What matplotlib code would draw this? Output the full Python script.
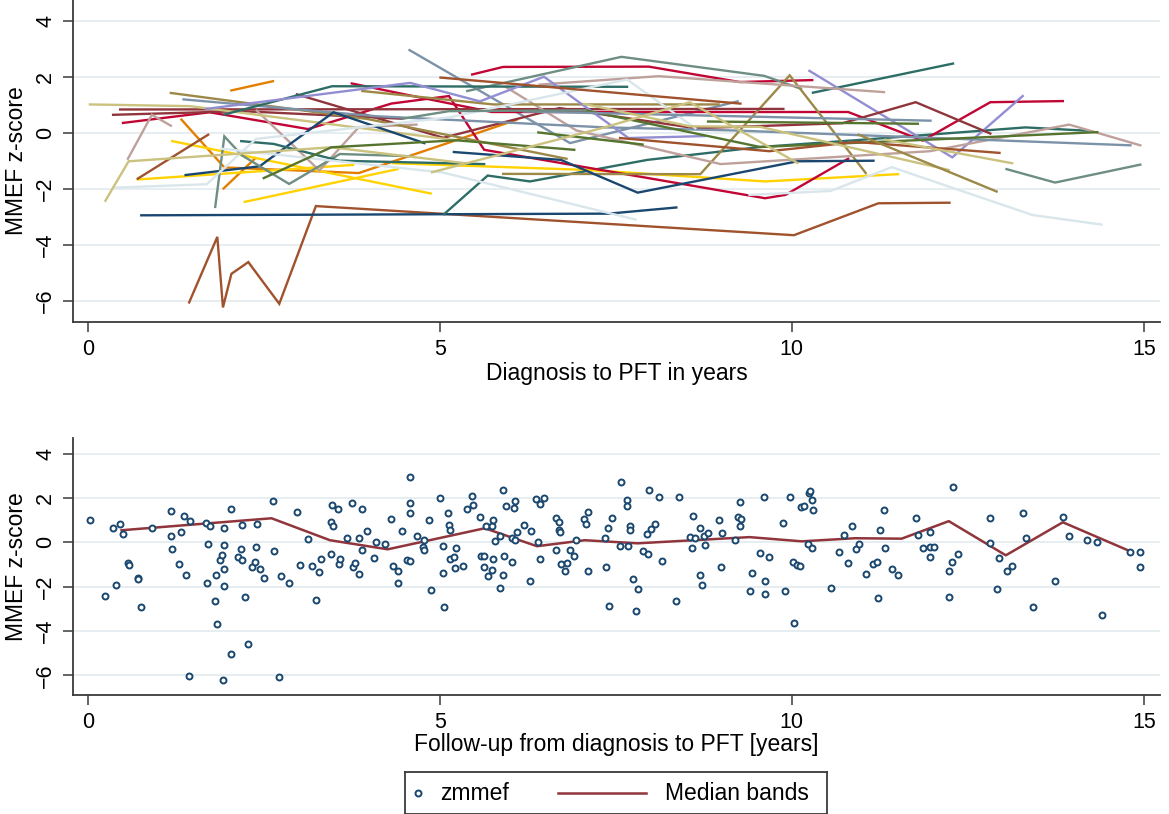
import matplotlib
matplotlib.use('Agg')
import matplotlib.pyplot as plt

plt.rcParams['font.family'] = ['Liberation Sans', 'DejaVu Sans']

# ---------------- data ----------------
# Stata s2color palette
palette = {
    'navy': '#1a476f', 'maroon': '#90353b', 'forest': '#55752f', 'dkorange': '#e37e00',
    'teal': '#6e8e84', 'cranberry': '#c10534', 'lavender': '#938dd2', 'khaki': '#cac27e',
    'sienna': '#a0522d', 'emidblue': '#7b92a8', 'emerald': '#2d6d66', 'brown': '#9c8847',
    'erose': '#bfa19c', 'gold': '#ffd200', 'bluishgray': '#d9e6eb',
}

# per-subject trajectories (top panel)
subj_color = [
    'sienna', 'navy', 'emerald', 'emidblue', 'dkorange', 'dkorange', 'dkorange',
    'gold', 'gold', 'gold', 'gold', 'cranberry', 'cranberry', 'cranberry', 'teal',
    'emerald', 'lavender', 'brown', 'maroon', 'maroon', 'maroon', 'erose', 'erose',
    'erose', 'erose', 'khaki', 'brown', 'brown', 'emidblue', 'emerald', 'lavender',
    'navy', 'teal', 'emerald', 'bluishgray', 'bluishgray', 'bluishgray', 'sienna',
    'khaki', 'forest', 'forest', 'forest', 'forest', 'sienna', 'sienna', 'teal',
    'navy', 'emidblue', 'khaki', 'khaki', 'brown', 'khaki', 'teal',
]
subj_x = [
    [1.44, 1.84, 1.92, 2.04, 2.28, 2.72, 3.24, 10.03, 11.23, 12.24],
    [0.76, 7.40, 8.36],
    [5.06, 5.68, 6.28, 7.95, 9.55, 10.95, 13.32, 14.20],
    [4.57, 6.85, 9.23],
    [2.04, 2.63],
    [1.33, 1.94, 3.85, 6.09],
    [1.93, 2.38],
    [1.20, 4.87],
    [0.71, 3.77],
    [2.23, 4.40],
    [4.34, 7.10, 9.62, 11.51],
    [0.50, 1.73, 3.13, 4.31, 5.13, 5.63, 9.62, 9.91, 10.80],
    [5.46, 5.90, 7.97, 9.26, 10.29],
    [3.75, 4.58, 5.74, 10.80, 11.86, 12.82, 13.85],
    [5.39, 7.58, 9.61, 10.13],
    [10.30, 12.29],
    [10.25, 12.28, 13.28],
    [5.90, 8.70, 9.97, 11.05],
    [0.46, 9.88],
    [0.36, 2.19, 4.47],
    [2.97, 5.05, 6.70, 8.63, 10.72, 11.76, 12.82],
    [0.57, 0.91, 1.18],
    [2.40, 3.29, 3.85, 4.67],
    [5.94, 6.94, 8.99, 11.96, 13.94, 14.95],
    [6.42, 8.11, 11.31],
    [0.03, 1.45, 5.23],
    [1.18, 3.97, 6.80],
    [3.90, 5.76, 8.96],
    [1.36, 4.09, 7.35, 9.19, 14.81],
    [1.94, 3.47, 7.66],
    [1.68, 4.58, 5.57, 6.48, 7.68, 8.76],
    [1.39, 2.44, 3.49, 4.78],
    [1.81, 1.94, 2.19, 2.86, 3.58, 4.58],
    [2.18, 2.64, 3.57, 5.63],
    [0.40, 1.69, 2.39, 5.14, 7.66, 8.63],
    [1.90, 5.04, 7.78],
    [9.40, 10.55, 11.42, 13.42, 14.40],
    [0.71, 1.71],
    [0.25, 0.58, 3.46, 5.33],
    [6.40, 7.88],
    [8.81, 11.79],
    [7.07, 9.55, 12.02, 14.34],
    [2.50, 3.46, 5.23, 6.91],
    [5.01, 9.27],
    [7.56, 9.68, 10.91, 12.95],
    [13.05, 13.74, 14.95],
    [5.20, 6.72, 7.81, 10.08, 11.16],
    [6.19, 11.97],
    [7.05, 8.55, 9.55, 12.23],
    [11.33, 13.13],
    [10.95, 12.91],
    [4.89, 7.34, 8.55, 10.08],
    [4.47, 5.13, 7.07],
]
subj_y = [
    [-6.05, -3.71, -6.23, -5.03, -4.61, -6.10, -2.61, -3.65, -2.51, -2.49],
    [-2.94, -2.88, -2.66],
    [-2.90, -1.52, -1.73, -0.96, -0.50, -0.25, 0.20, 0.08],
    [2.96, -0.36, 1.13],
    [1.52, 1.85],
    [0.48, -1.23, -1.43, 0.47],
    [-1.98, -0.90],
    [-0.29, -2.16],
    [-1.66, -1.14],
    [-2.46, -1.29],
    [-1.08, -1.32, -1.73, -1.47],
    [0.36, 0.74, 0.14, 1.05, 1.32, -0.60, -2.33, -2.21, -0.92],
    [2.09, 2.36, 2.37, 1.82, 1.89],
    [1.77, 1.34, 0.75, 0.75, -0.27, 1.10, 1.14],
    [1.50, 2.72, 2.04, 1.58],
    [1.44, 2.48],
    [2.22, -0.87, 1.32],
    [-1.46, -1.47, 2.06, -1.43],
    [0.84, 0.86],
    [0.65, 0.78, 0.51],
    [1.38, -0.17, 0.89, 0.17, 0.35, 1.10, -0.02],
    [-0.92, 0.65, 0.26],
    [0.80, -1.34, 0.21, 0.30],
    [1.64, 0.09, -1.11, -0.65, 0.30, -0.44],
    [1.73, 2.03, 1.46],
    [1.02, 0.96, -0.26],
    [1.43, 0.50, -0.92],
    [1.50, 1.02, 1.02],
    [1.20, 0.60, 0.20, 0.09, -0.44],
    [0.66, 1.67, 1.65],
    [0.86, 1.79, 1.13, 2.01, -0.18, -0.11],
    [-1.50, -1.19, 0.74, -0.36],
    [-2.64, -0.12, -0.80, -1.82, -0.75, -0.83],
    [-0.29, -0.39, -0.99, -1.11],
    [-1.95, -1.83, -0.21, 0.56, 1.91, 0.17],
    [-0.56, -1.41, -3.09],
    [-2.21, -2.07, -1.22, -2.93, -3.27],
    [-1.63, -0.06],
    [-2.42, -1.01, -0.51, -1.07],
    [0.02, -0.41],
    [0.41, 0.33],
    [0.81, -0.50, -0.23, 0.03],
    [-1.61, -0.51, -0.26, -0.60],
    [1.98, 1.05],
    [-0.18, -0.65, -0.32, -0.71],
    [-1.29, -1.77, -1.13],
    [-0.68, -0.96, -2.13, -1.01, -0.99],
    [0.77, 0.44],
    [1.04, 0.24, 0.22, -1.32],
    [-0.24, -1.08],
    [-0.06, -2.09],
    [-1.40, 0.20, 1.10, -1.07],
    [0.51, 0.78, 0.81],
]

# pooled observations (bottom panel)
followup_years = [
    0.03, 0.25, 0.36, 0.40, 0.46, 0.50, 0.57, 0.58, 0.71, 0.71, 0.76, 0.91, 1.18, 1.18, 1.20, 1.29,
    1.33, 1.36, 1.39, 1.44, 1.45, 1.68, 1.69, 1.71, 1.73, 1.81, 1.82, 1.84, 1.88, 1.90, 1.93, 1.94,
    1.94, 1.94, 1.92, 2.04, 2.04, 2.13, 2.18, 2.19, 2.19, 2.23, 2.28, 2.33, 2.38, 2.39, 2.40, 2.44,
    2.50, 2.63, 2.64, 2.72, 2.75, 2.86, 2.97, 3.01, 3.13, 3.18, 3.24, 3.29, 3.31, 3.46, 3.46, 3.47,
    3.49, 3.56, 3.57, 3.58,
    3.68, 3.75, 3.77, 3.80, 3.85, 3.85, 3.89, 3.90, 3.97, 4.07, 4.09, 4.22, 4.31, 4.34, 4.40, 4.40,
    4.47, 4.53, 4.57, 4.58, 4.58, 4.58, 4.67, 4.76, 4.78, 4.78, 4.85, 4.87, 5.01, 5.04, 5.05, 5.06,
    5.12, 5.13, 5.14, 5.14, 5.20, 5.21, 5.23, 5.33, 5.39, 5.46, 5.47, 5.57, 5.59, 5.63, 5.63, 5.66,
    5.68, 5.74, 5.74, 5.76, 5.76, 5.79, 5.86, 5.86, 5.90, 5.90, 5.91, 5.94, 6.02, 6.02, 6.05, 6.07,
    6.07, 6.09, 6.19, 6.28, 6.30, 6.37, 6.40, 6.42, 6.42, 6.48, 6.65, 6.65, 6.69, 6.70, 6.71, 6.72,
    6.78, 6.80, 6.85, 6.91, 6.94, 7.05, 7.07, 7.10, 7.11, 7.35, 7.36, 7.39, 7.40, 7.44,
    7.56, 7.58, 7.66, 7.66, 7.68, 7.70, 7.70, 7.75, 7.78, 7.81, 7.88, 7.95, 7.96, 7.97, 8.00, 8.05,
    8.11, 8.16, 8.36, 8.40, 8.55, 8.58, 8.60, 8.63, 8.70, 8.70, 8.73, 8.75, 8.76, 8.81, 8.96, 8.99,
    9.01, 9.19, 9.23, 9.26, 9.27, 9.28, 9.40, 9.43, 9.55, 9.61, 9.62, 9.62, 9.68, 9.88, 9.91, 9.97,
    10.01, 10.03, 10.08, 10.11, 10.13, 10.17, 10.23, 10.25, 10.26, 10.28, 10.29, 10.30, 10.55, 10.67,
    10.74, 10.80, 10.85, 10.91, 10.95, 11.05, 11.16, 11.21, 11.23, 11.25, 11.31, 11.33,
    11.42, 11.51, 11.76, 11.79, 11.86, 11.96, 11.96, 11.97, 12.02, 12.23, 12.24, 12.28, 12.29, 12.36,
    12.82, 12.82, 12.91, 12.95, 13.05, 13.13, 13.28, 13.32, 13.42, 13.74, 13.85, 13.94, 14.20, 14.34,
    14.40, 14.81, 14.95, 14.95,
]
zmmef = [
    1.02, -2.42, 0.65, -1.95, 0.84, 0.36, -0.92, -1.01, -1.63, -1.68, -2.94, 0.65, 1.43, 0.26, -0.29, -0.96,
    0.48, 1.20, -1.50, -6.05, 0.96, 0.86, -1.83, -0.06, 0.74, -2.64, -1.47, -3.71, -0.81, -0.56, -1.98, 0.66,
    -0.12, -1.23, -6.23, -5.03, 1.52, -0.68, -0.29, 0.78, -0.80, -2.46, -4.61, -1.13, -0.90, -0.21, 0.80, -1.19,
    -1.61, 1.85, -0.39, -6.10, -1.53, -1.82, 1.38, -1.04, 0.14, -1.08, -2.61, -1.34, -0.75, 0.92, -0.51, 1.67,
    0.74, 1.49, -0.99, -0.75,
    0.17, 1.77, -1.14, -0.93, 0.21, -1.43, -0.36, 1.50, 0.50, -0.72, 0.02, -0.08, 1.05, -1.08, -1.29, -1.86,
    0.51, -0.80, 2.96, 1.79, 1.34, -0.83, 0.30, -0.21, 0.12, -0.36, 1.02, -2.16, 1.98, -1.41, -0.17, -2.90,
    1.32, 0.78, 0.56, -0.75, -0.68, -1.16, -0.26, -1.07, 1.50, 2.09, 1.70, 1.13, -0.63, -0.60, -1.11, 0.72,
    -1.52, 0.75, -1.26, 1.02, -0.77, 0.06, 0.29, -2.06, -1.46, 2.36, -0.62, 1.64, 0.18, -0.90, 1.56, 1.85,
    0.11, 0.47, 0.77, -1.73, 0.50, 1.97, 0.02, -0.77, 1.73, 2.01, 1.11, -0.36, 0.57, 0.89, 0.45, -0.96,
    -1.31, -0.92, -0.36, -0.60, 0.09, 1.04, 0.81, -1.32, 1.38, 0.20, -1.11, 0.66, -2.88, 1.07,
    -0.18, 2.72, 1.91, 1.65, -0.18, 0.74, 0.53, -1.65, -3.09, -2.13, -0.41, 0.36, -0.54, 2.37, 0.59, 0.83,
    2.03, -0.84, -2.66, 2.06, 0.24, -0.24, 1.19, 0.17, -1.47, 0.66, -1.91, 0.26, -0.11, 0.41, 1.02, -1.11,
    0.42, 0.09, 1.13, 1.82, 0.72, 1.05, -2.21, -1.40, -0.50, 2.04, -1.73, -2.33, -0.65, 0.86, -2.21, 2.06,
    -0.87, -3.65, -1.01, -1.08, 1.58, 1.65, -0.09, 2.22, 2.31, -0.24, 1.89, 1.44, -2.07, -0.42,
    0.33, -0.92, 0.75, -0.32, -0.06, -1.43, -0.99, -0.89, -2.51, 0.53, 1.46, -0.24,
    -1.22, -1.47, 1.10, 0.33, -0.27, -0.65, -0.23, 0.44, -0.23, -1.32, -2.49, -0.87, 2.48, -0.53,
    1.10, -0.02, -2.09, -0.71, -1.29, -1.08, 1.32, 0.20, -2.93, -1.77, 1.14, 0.30, 0.08, 0.03,
    -3.27, -0.44, -0.44, -1.13,
]

# median bands
median_x = [0.48, 2.61, 3.44, 4.26, 5.64, 6.38, 7.06, 7.81, 9.40, 10.14, 10.90, 11.56, 12.23, 13.04, 13.85, 14.83]
median_y = [0.54, 1.08, 0.09, -0.32, 0.63, -0.18, 0.09, -0.05, 0.23, 0.04, 0.18, 0.16, 0.95, -0.59, 0.90, -0.44]

x_ticks = [0, 5, 10, 15]
y_ticks = [-6, -4, -2, 0, 2, 4]

# ---------------- figure ----------------
W, H = 1169, 814
fig = plt.figure(figsize=(W / 100, H / 100), dpi=100)
fig.patch.set_facecolor('white')

def frac(x0, y0, x1, y1):
    return [x0 / W, 1 - y1 / H, (x1 - x0) / W, (y1 - y0) / H]

ax1 = fig.add_axes(frac(73, 0, 1160, 322))
ax2 = fig.add_axes(frac(73, 438, 1160, 695))

for c, xs, ys in zip(subj_color, subj_x, subj_y):
    ax1.plot(xs, ys, color=palette[c], lw=1.7, solid_joinstyle='miter', zorder=2)

ax2.plot(followup_years, zmmef, ls='none', marker='o', ms=4.3, mfc='white',
         mec=palette['navy'], mew=1.4, zorder=3)
ax2.plot(median_x, median_y, color=palette['maroon'], lw=1.8, zorder=2)

axis_col = '#3a3a3a'
for ax in (ax1, ax2):
    ax.set_xlim(-0.21, 15.23)
    ax.set_xticks(x_ticks)
    ax.set_yticks(y_ticks)
    ax.grid(axis='y', color='#e4edf0', lw=1.3)
    ax.set_axisbelow(True)
    for s in ('top', 'right'):
        ax.spines[s].set_visible(False)
    for s in ('left', 'bottom'):
        ax.spines[s].set_color(axis_col)
        ax.spines[s].set_linewidth(1.3)
    ax.tick_params(axis='both', labelsize=15.5, length=7, width=1.1, color=axis_col, pad=5)
    ax.tick_params(axis='y', labelrotation=90)
    for t in ax.get_yticklabels():
        t.set_va('center')
    ax.set_ylabel('MMEF z-score', fontsize=16.5, labelpad=5)

ax1.set_ylim(-6.75, 4.75)
ax2.set_ylim(-6.89, 4.7)
ax1.set_xlabel('Diagnosis to PFT in years', fontsize=16.5, labelpad=2)
ax2.set_xlabel('Follow-up from diagnosis to PFT [years]', fontsize=16.5, labelpad=0)

# legend (drawn in pixel coordinates)
lax = fig.add_axes(frac(405, 772, 827, 814))
lax.set_xlim(405, 827)
lax.set_ylim(814, 772)
lax.set_xticks([])
lax.set_yticks([])
for s in lax.spines.values():
    s.set_color(axis_col)
    s.set_linewidth(1.3)
lax.plot([418], [793], ls='none', marker='o', ms=4.3, mfc='white', mec=palette['navy'], mew=1.4)
lax.text(440, 793, 'zmmef', va='center', ha='left', fontsize=16.5)
lax.plot([558, 646], [793, 793], color=palette['maroon'], lw=1.8)
lax.text(665, 793, 'Median bands', va='center', ha='left', fontsize=16.5)

fig.savefig('out.png', dpi=100, facecolor='white')
